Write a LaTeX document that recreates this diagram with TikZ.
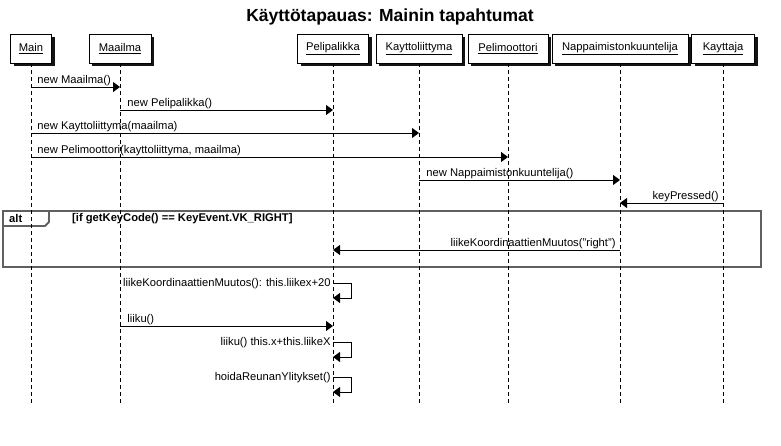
\documentclass[tikz,border=0pt]{standalone}
\usepackage{fontspec}
\setmainfont{Liberation Sans}
\usepackage{tikz}
\usepackage{xcolor}
\usetikzlibrary{arrows.meta,shadows}
\definecolor{framegray}{RGB}{96,96,96}
\definecolor{shadowgray}{RGB}{20,20,20}
\definecolor{lifeblack}{RGB}{0,0,0}

\begin{document}
\begin{tikzpicture}[x=1pt, y=-1pt,
    obj/.style={draw, fill=white, line width=0.8pt, minimum height=29pt, inner sep=0pt,
        font=\fontsize{11.2}{13}\selectfont,
        drop shadow={shadow xshift=3pt, shadow yshift=-3pt, fill=shadowgray, opacity=1}},
    life/.style={lifeblack, line width=0.8pt, dash pattern=on 4pt off 3pt},
    msg/.style={line width=0.9pt, -{Triangle[length=7pt, width=10pt]}},
    lbl/.style={font=\fontsize{11.2}{13}\selectfont, inner sep=1pt},
    frame/.style={framegray, line width=2.2pt}]
    \useasboundingbox (0,0) rectangle (781,446);

    % Title
    \node[font=\fontsize{17.5}{20}\bfseries\selectfont] (title) at (390,17) {Käyttötapauas: Mainin tapahtumat};

    % Alt fragment
    \draw[frame] (3,211) rectangle (761,267);
    \draw[framegray, line width=1.8pt] (3,211) -- (49,211) -- (49,222) -- (45,226) -- (3,226);
    \node[lbl, font=\fontsize{11.2}{13}\bfseries\selectfont, anchor=west] (alt) at (8,218.5) {alt};
    \node[lbl, font=\fontsize{11.2}{13}\bfseries\selectfont, anchor=west] (guard) at (71,218.5) {[if getKeyCode() == KeyEvent.VK\_RIGHT]};

    % Participants
    \node[obj, minimum width=41pt] (main) at (31,48.5) {\underline{Main}};
    \node[obj, minimum width=62pt] (maailma) at (120,48.5) {\underline{Maailma}};
    \node[obj, minimum width=71pt] (peli) at (333,48.5) {\underline{Pelipalikka}};
    \node[obj, minimum width=86pt] (kali) at (419,48.5) {\underline{Kayttoliittyma}};
    \node[obj, minimum width=80pt] (moottori) at (508,48.5) {\underline{Pelimoottori}};
    \node[obj, minimum width=136pt] (nappi) at (620,48.5) {\underline{Nappaimistonkuuntelija}};
    \node[obj, minimum width=63pt] (kayttaja) at (723,48.5) {\underline{Kayttaja}};

    % Lifelines
    \draw[life] (main.south) -- (main.south |- 0,404);
    \draw[life] (maailma.south) -- (maailma.south |- 0,404);
    \draw[life] (peli.south) -- (peli.south |- 0,404);
    \draw[life] (kali.south) -- (kali.south |- 0,404);
    \draw[life] (moottori.south) -- (moottori.south |- 0,404);
    \draw[life] (nappi.south) -- (nappi.south |- 0,404);
    \draw[life] (kayttaja.south) -- (kayttaja.south |- 0,404);

    % Creation messages
    \draw[msg] (main |- 0,87) -- node[lbl, pos=0, anchor=south west, xshift=5pt] (m1) {new Maailma()} (maailma |- 0,87);
    \draw[msg] (maailma |- 0,110) -- node[lbl, pos=0, anchor=south west, xshift=6pt] (m2) {new Pelipalikka()} (peli |- 0,110);
    \draw[msg] (main |- 0,133) -- node[lbl, pos=0, anchor=south west, xshift=5pt] (m3) {new Kayttoliittyma(maailma)} (kali |- 0,133);
    \draw[msg] (main |- 0,157) -- node[lbl, pos=0, anchor=south west, xshift=5pt] (m4) {new Pelimoottori(kayttoliittyma, maailma)} (moottori |- 0,157);
    \draw[msg] (kali |- 0,180) -- node[lbl, pos=0, anchor=south west, xshift=6pt] (m5) {new Nappaimistonkuuntelija()} (nappi |- 0,180);
    \draw[msg] (kayttaja |- 0,203) -- node[lbl, pos=0, anchor=south east, xshift=-3pt] (m6) {keyPressed()} (nappi |- 0,203);

    % Inside alt
    \draw[msg] (nappi |- 0,250) -- node[lbl, pos=0, anchor=south east, xshift=-3pt] (m7) {liikeKoordinaattienMuutos("right")} (peli |- 0,250);

    % Self calls on Pelipalikka
    \draw[msg] (peli |- 0,283) -- node[lbl, pos=0, anchor=east, xshift=-1pt, yshift=-1pt] (m8) {liikeKoordinaattienMuutos(): this.liikex+20} ++(18,0) -- ++(0,15) -- (peli |- 0,298);
    \draw[msg] (maailma |- 0,326) -- node[lbl, pos=0, anchor=south west, xshift=6pt] (m9) {liiku()} (peli |- 0,326);
    \draw[msg] (peli |- 0,342) -- node[lbl, pos=0, anchor=east, xshift=-1pt, yshift=-1pt] (m10) {liiku() this.x+this.liikeX} ++(18,0) -- ++(0,15) -- (peli |- 0,357);
    \draw[msg] (peli |- 0,377) -- node[lbl, pos=0, anchor=east, xshift=-1pt, yshift=-1pt] (m11) {hoidaReunanYlitykset()} ++(18,0) -- ++(0,15) -- (peli |- 0,392);
\end{tikzpicture}
\end{document}
